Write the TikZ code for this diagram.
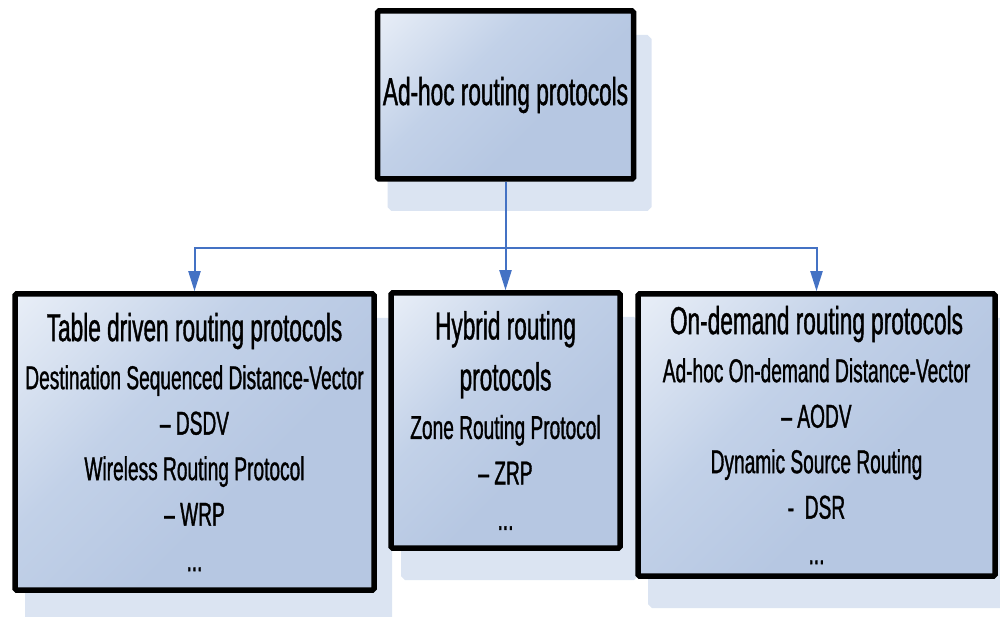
\documentclass[tikz,border=0pt]{standalone}
\usepackage{fontspec}
\setmainfont{Liberation Sans}[FakeStretch=0.58, FakeBold=1]
\usepackage{xcolor}
\usepackage{tikz}
\usetikzlibrary{arrows.meta,positioning,shadows}
\definecolor{boxlight}{HTML}{E8EEF7}
\definecolor{boxmid}{HTML}{C2D1E8}
\definecolor{boxdark}{HTML}{B6C7E2}
\definecolor{shadowfill}{HTML}{DBE4F2}
\definecolor{linkblue}{HTML}{4472C4}
\pgfdeclareverticalshading{protoshade}{100bp}{color(0bp)=(boxdark); color(40bp)=(boxdark);
  color(60bp)=(boxmid); color(85bp)=(boxlight); color(100bp)=(boxlight)}
\newcommand{\headfont}{\fontsize{39}{51}\selectfont}
\newcommand{\itemfont}{\fontsize{33}{45.5}\selectfont}

\begin{document}
\begin{tikzpicture}[
  x=1pt, y=1pt,
  proto/.style={draw=black, line width=5.5pt, rounded corners=1.5pt, inner sep=0pt,
    align=center, font=\itemfont, shading=protoshade, shading angle=45,
    general shadow={shadow xshift=14pt, shadow yshift=-28pt, draw=shadowfill,
      line width=8pt, fill=shadowfill}},
  link/.style={draw=linkblue, line width=2pt},
  arrow/.style={link, -{Triangle[length=20pt, width=12pt]}}
]
\useasboundingbox (0,0) rectangle (1000,616);
\node[proto, minimum width=256pt, minimum height=168pt, font=\headfont] (adhoc) at (505.5,521) {Ad-hoc routing protocols};
\node[proto, minimum width=359pt, minimum height=296pt] (table) at (194.5,174)
  {{\headfont Table driven routing protocols}\\[2.5pt]
   Destination Sequenced Distance-Vector\\ – DSDV\\ Wireless Routing Protocol\\ – WRP\\ ...};
\node[proto, minimum width=229pt, minimum height=255pt] (hybrid) at (505.5,195.5)
  {{\headfont Hybrid routing}\\[5.5pt]{\headfont protocols}\\[3pt]
   Zone Routing Protocol\\ – ZRP\\ ...};
\node[proto, minimum width=357pt, minimum height=282pt] (ondemand) at (816.5,181)
  {{\headfont On-demand routing protocols}\\[2.5pt]
   Ad-hoc On-demand Distance-Vector\\ – AODV\\ Dynamic Source Routing\\ -\ \ DSR\\ ...};
\coordinate[below=66pt of adhoc.south] (fork);
\draw[link] (adhoc.south) -- (fork);
\draw[arrow] (fork) -| (table.north);
\draw[arrow] (fork) -- (hybrid.north);
\draw[arrow] (fork) -| (ondemand.north);
\end{tikzpicture}
\end{document}
